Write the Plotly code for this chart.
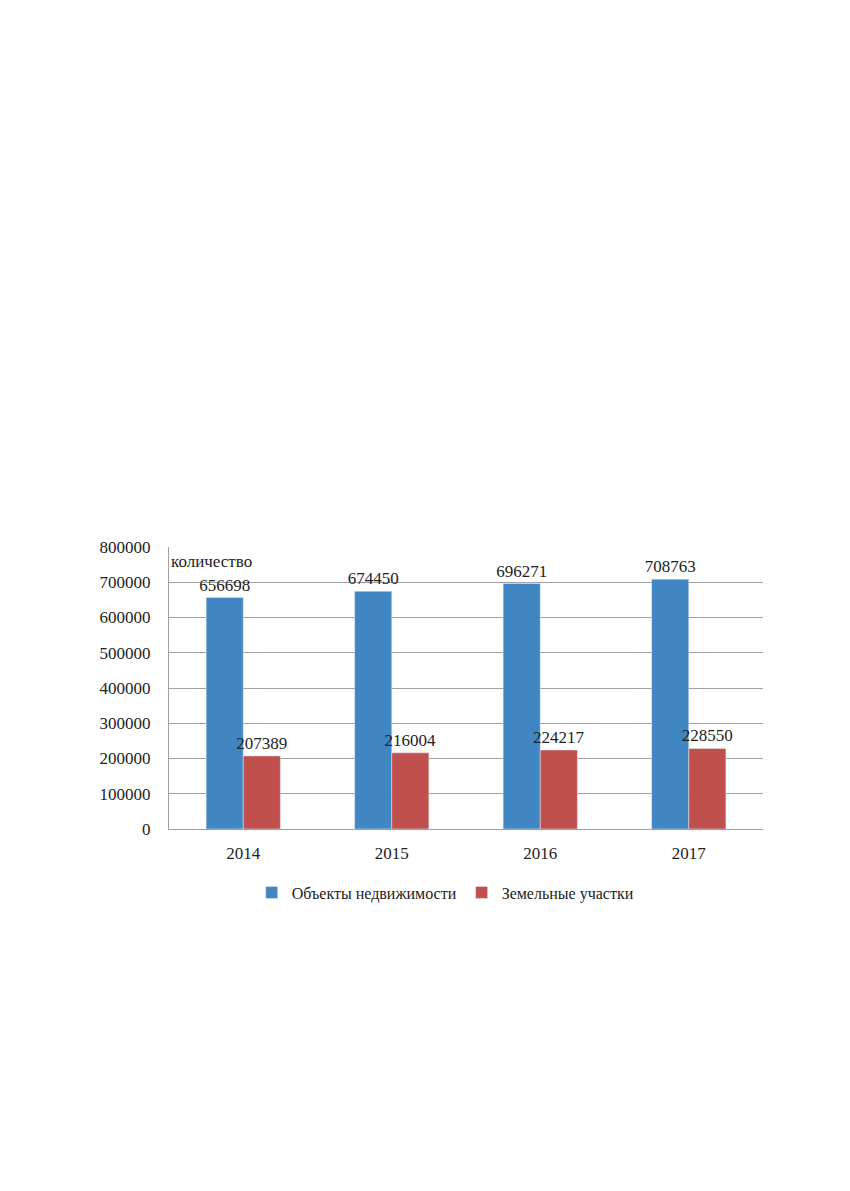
import plotly.graph_objects as go

years = ["2014", "2015", "2016", "2017"]
objects = [656698, 674450, 696271, 708763]
land = [207389, 216004, 224217, 228550]
y_ticks = [0, 100000, 200000, 300000, 400000, 500000, 600000, 700000, 800000]

font = "Liberation Serif, Times New Roman, serif"

fig = go.Figure()
fig.add_trace(go.Bar(
    x=years, y=objects, name="Объекты недвижимости",
    marker_color="#3f86c3",
    text=[str(v) for v in objects], textposition="outside",
    textfont=dict(family=font, size=17, color="#222222"),
    constraintext="none", cliponaxis=False,
))
fig.add_trace(go.Bar(
    x=years, y=land, name="Земельные участки",
    marker_color="#c0504d",
    text=[str(v) for v in land], textposition="outside",
    textfont=dict(family=font, size=17, color="#222222"),
    constraintext="none", cliponaxis=False,
))

fig.update_layout(
    width=850, height=1191,
    margin=dict(l=161, r=95, t=539, b=370),
    paper_bgcolor="white", plot_bgcolor="white",
    barmode="group", bargap=0.5, bargroupgap=0,
    font=dict(family=font, size=17, color="#222222"),
    showlegend=True,
    legend=dict(orientation="h", x=0.465, xanchor="center", y=-0.165, yanchor="top",
                font=dict(family=font, size=16), itemwidth=30, tracegroupgap=0),
    xaxis=dict(showline=True, linecolor="#a0a0a0", ticks="", ticklabelstandoff=9,
               tickfont=dict(size=17)),
    yaxis=dict(range=[0, 800000], tickvals=y_ticks, ticktext=[str(v) for v in y_ticks],
               showgrid=True, gridcolor="#a0a0a0", gridwidth=1,
               showline=True, linecolor="#a0a0a0", zeroline=False,
               ticks="", ticklabelstandoff=14, tickfont=dict(size=17)),
    annotations=[dict(text="количество", xref="paper", yref="paper", x=0, y=0.99,
                      xanchor="left", yanchor="top", showarrow=False,
                      font=dict(family=font, size=17, color="#222222"))],
)

fig.write_html("out.html")
